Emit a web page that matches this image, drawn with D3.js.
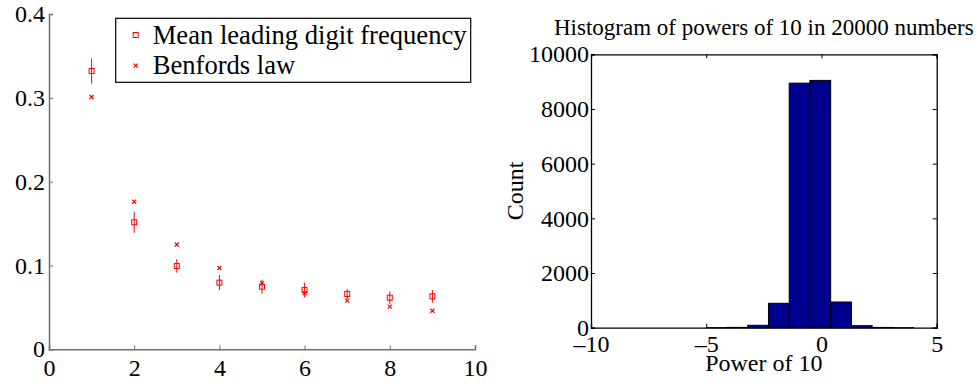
<!DOCTYPE html>
<html>
<head>
<meta charset="utf-8">
<script src="https://cdn.jsdelivr.net/npm/d3@7"></script>
<style>
  html, body { margin: 0; padding: 0; background: #fff; }
  svg text { font-family: "Liberation Serif", "Times New Roman", serif; fill: #000; }
</style>
</head>
<body>
<svg id="chart" width="979" height="384"></svg>
<script>
// ---- Left panel data ----
const digits = [1, 2, 3, 4, 5, 6, 7, 8, 9];
const meanFreq = [0.332, 0.1515, 0.0994, 0.0795, 0.0747, 0.0707, 0.066, 0.0616, 0.0632];
const meanErr = [0.015, 0.0125, 0.008, 0.009, 0.0083, 0.0088, 0.006, 0.0075, 0.0075];
const benford = [0.301, 0.176, 0.125, 0.097, 0.079, 0.067, 0.058, 0.051, 0.046];
const leftXTicks = [0, 2, 4, 6, 8, 10];
const leftYTicks = [0, 0.1, 0.2, 0.3, 0.4];
const legendLabels = ["Mean leading digit frequency", "Benfords law"];

// ---- Right panel data ----
const binEdges = [-5, -4.1, -3.2, -2.3, -1.4, -0.5, 0.4, 1.3, 2.2, 3.1, 4.0];
const binCounts = [3, 12, 88, 892, 8945, 9045, 940, 73, 10, 2];
const rightXTicks = [-10, -5, 0, 5];
const rightYTicks = [0, 2000, 4000, 6000, 8000, 10000];
const histTitle = "Histogram of powers of 10 in 20000 numbers";
const histXLabel = "Power of 10";
const histYLabel = "Count";

const FONT = '"Liberation Serif", "Times New Roman", serif';
const svg = d3.select("#chart");
const red = "#ff0000";

// ================= LEFT PANEL =================
const lx = d3.scaleLinear().domain([0, 10]).range([49, 475]);
const ly = d3.scaleLinear().domain([0, 0.4]).range([349.3, 14]);
const L = svg.append("g");
const axisGray = "#6e6e6e";

const lxAxis = L.append("g").attr("transform", `translate(0,${ly(0)})`)
  .call(d3.axisBottom(lx).tickValues(leftXTicks).tickSize(-4).tickPadding(8).tickFormat(d3.format("d")));
const lyAxis = L.append("g").attr("transform", `translate(${lx(0)},0)`)
  .call(d3.axisLeft(ly).tickValues(leftYTicks).tickSize(-4).tickPadding(4).tickFormat(d => d === 0 ? "0" : d3.format(".1f")(d)));
[lxAxis, lyAxis].forEach(a => {
  a.attr("font-family", FONT).attr("font-size", 24);
  a.select(".domain").attr("stroke", axisGray).attr("stroke-width", 1.5);
  a.selectAll(".tick line").attr("stroke", axisGray);
  a.selectAll(".tick text").attr("font-family", FONT).attr("font-size", 24).attr("fill", "#000");
});
lxAxis.selectAll(".tick text").attr("dy", "0.71em").attr("y", 10);

// error bars
L.append("g").selectAll("line").data(digits).join("line")
  .attr("x1", (d) => lx(d)).attr("x2", (d) => lx(d))
  .attr("y1", (d, i) => ly(meanFreq[i] + meanErr[i]))
  .attr("y2", (d, i) => ly(meanFreq[i] - meanErr[i]))
  .attr("stroke", red).attr("stroke-width", 1);
// squares
const sq = 5;
L.append("g").selectAll("rect").data(digits).join("rect")
  .attr("x", d => lx(d) - sq / 2).attr("y", (d, i) => ly(meanFreq[i]) - sq / 2)
  .attr("width", sq).attr("height", sq)
  .attr("fill", "none").attr("stroke", red).attr("stroke-width", 1);
// x marks
const xm = 2;
function xMark(g, cx, cy) {
  g.append("path").attr("d", `M${cx - xm},${cy - xm}L${cx + xm},${cy + xm}M${cx - xm},${cy + xm}L${cx + xm},${cy - xm}`)
    .attr("stroke", red).attr("stroke-width", 1.2).attr("fill", "none");
}
const bg = L.append("g");
digits.forEach((d, i) => xMark(bg, lx(d), ly(benford[i])));

// legend
const leg = L.append("g");
leg.append("rect").attr("x", 115.7).attr("y", 18.3).attr("width", 355).attr("height", 64)
  .attr("fill", "#fff").attr("stroke", "#000").attr("stroke-width", 1.2);
leg.append("rect").attr("x", 135.7 - sq / 2).attr("y", 35 - sq / 2).attr("width", sq).attr("height", sq)
  .attr("fill", "none").attr("stroke", red);
xMark(leg, 135.7, 65.7);
leg.selectAll("text").data(legendLabels).join("text")
  .attr("x", 152.7).attr("y", (d, i) => i === 0 ? 44 : 74)
  .attr("font-family", FONT).attr("font-size", 26.6).text(d => d);

// ================= RIGHT PANEL =================
const rx = d3.scaleLinear().domain([-10, 5]).range([591, 936.7]);
const ry = d3.scaleLinear().domain([0, 10000]).range([327.7, 54.3]);
const R = svg.append("g");

// bars
R.append("g").selectAll("rect").data(binCounts).join("rect")
  .attr("x", (d, i) => rx(binEdges[i]))
  .attr("width", (d, i) => rx(binEdges[i + 1]) - rx(binEdges[i]))
  .attr("y", d => ry(d))
  .attr("height", d => ry(0) - ry(d))
  .attr("fill", "#00008f").attr("stroke", "#000").attr("stroke-width", 1);

const fmtMinus = d => d < 0 ? "\u2013" + Math.abs(d) : String(d);
const rxAxis = R.append("g").attr("transform", `translate(0,${ry(0)})`)
  .call(d3.axisBottom(rx).tickValues(rightXTicks).tickSize(-4).tickPadding(6).tickFormat(fmtMinus));
const ryAxis = R.append("g").attr("transform", `translate(${rx(-10)},0)`)
  .call(d3.axisLeft(ry).tickValues(rightYTicks).tickSize(-4).tickPadding(2).tickFormat(d3.format("d")));
const rxTop = R.append("g").attr("transform", `translate(0,${ry(10000)})`)
  .call(d3.axisTop(rx).tickValues(rightXTicks).tickSize(-4).tickFormat(""));
const ryRight = R.append("g").attr("transform", `translate(${rx(5)},0)`)
  .call(d3.axisRight(ry).tickValues(rightYTicks).tickSize(-4).tickFormat(""));
[rxAxis, ryAxis, rxTop, ryRight].forEach(a => {
  a.attr("font-family", FONT).attr("font-size", 24);
  a.select(".domain").attr("stroke", "#000").attr("stroke-width", 1.3);
  a.selectAll(".tick line").attr("stroke", "#000");
  a.selectAll(".tick text").attr("font-family", FONT).attr("font-size", 24).attr("fill", "#000");
});
rxAxis.selectAll(".tick text").attr("dy", "0.71em").attr("y", 7);

R.append("text").attr("x", (rx(-10) + rx(5)) / 2).attr("y", 35)
  .attr("text-anchor", "middle").attr("font-family", FONT).attr("font-size", 23).text(histTitle);
R.append("text").attr("x", (rx(-10) + rx(5)) / 2).attr("y", 370.7)
  .attr("text-anchor", "middle").attr("font-family", FONT).attr("font-size", 24).text(histXLabel);
R.append("text").attr("transform", `translate(523,${(ry(0) + ry(10000)) / 2}) rotate(-90)`)
  .attr("text-anchor", "middle").attr("font-family", FONT).attr("font-size", 24).text(histYLabel);
</script>
</body>
</html>
